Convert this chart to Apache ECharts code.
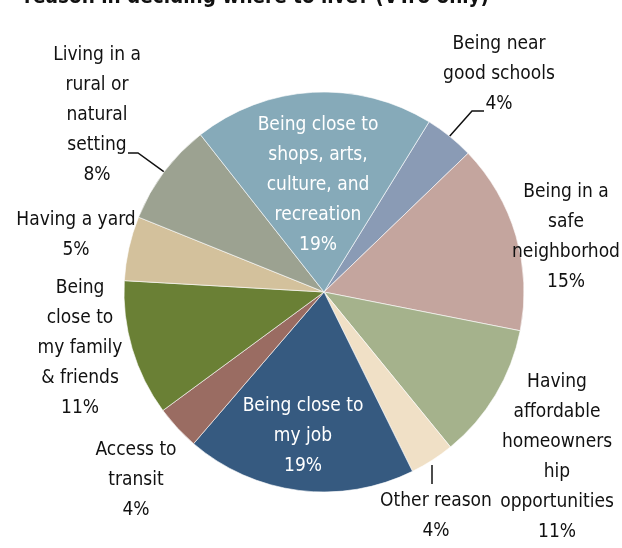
<!DOCTYPE html>
<html><head><meta charset="utf-8">
<script src="https://cdn.jsdelivr.net/npm/echarts@6/dist/echarts.min.js"></script>
<style>html,body{margin:0;padding:0;background:#fff}#c{width:622px;height:548px}</style>
</head><body><div id="c"></div>
<script>
var categories = [
  "Being near\ngood schools",
  "Being in a\nsafe\nneighborhod",
  "Having\naffordable\nhomeowners\nhip\nopportunities",
  "Other reason",
  "Being close to\nmy job",
  "Access to\ntransit",
  "Being\nclose to\nmy family\n& friends",
  "Having a yard",
  "Living in a\nrural or\nnatural\nsetting",
  "Being close to\nshops, arts,\nculture, and\nrecreation"
];
var values = [4.0, 15.3, 11.0, 3.6, 18.6, 3.6, 11.0, 5.2, 8.3, 19.4];
var colors = ["#8a9bb5", "#c4a59e", "#a5b28c", "#f0e0c6", "#365a80", "#9a6c62", "#6a8035", "#d3c19c", "#9ca291", "#86aab9"];
var insideIdx = [4, 9];
var lineIdx = [0, 3, 8];
// label block centres (layout only)
var labelPos = [[499,74],[566,237],[557,457],[436,516],[303,436],[136,480],[80,348],[76,235],[97,115],[318,185]];

var FONT = "'Liberation Sans Narrow','DejaVu Sans Condensed','Arial Narrow',sans-serif";
var chart = echarts.init(document.getElementById('c'), null, {renderer:'canvas'});
var data = categories.map(function(n,i){
  var inside = insideIdx.indexOf(i) >= 0;
  return {
    name: n, value: values[i],
    itemStyle: {color: colors[i]},
    label: {color: inside ? '#ffffff' : '#111111'},
    labelLine: {show: lineIdx.indexOf(i) >= 0}
  };
});
chart.setOption({
  animation: false,
  title: {
    text: 'reason in deciding where to live? (VTro only)',
    left: 19, top: -18,
    textStyle: {fontFamily: FONT, fontWeight: 'bold', fontSize: 20.5, color: '#111'}
  },
  series: [{
    type: 'pie',
    center: [324, 292],
    radius: [0, 200],
    startAngle: 58.3,
    clockwise: true,
    data: data,
    itemStyle: {borderColor: '#ffffff', borderWidth: 0.6},
    label: {
      show: true,
      fontFamily: FONT, fontSize: 19, lineHeight: 30,
      align: 'center',
      overflow: 'none',
      edgeDistance: 0,
      formatter: function(p){ return p.name + '\n' + Math.round(p.value) + '%'; }
    },
    labelLine: {lineStyle: {color: '#111', width: 1.5}},
    labelLayout: function(p){
      var i = p.dataIndex;
      var pos = labelPos[i];
      var res = {x: pos[0], y: pos[1], align: 'center', verticalAlign: 'middle', draggable: false};
      var s = p.labelLinePoints ? p.labelLinePoints[0] : null;
      if (s) {
        if (i === 0) res.labelLinePoints = [s, [472,111], [484,111]];
        else if (i === 8) res.labelLinePoints = [s, [138,153], [128,153]];
        else if (i === 3) res.labelLinePoints = [[432,465], [432,465], [432,484]];
      }
      return res;
    }
  }]
});
</script></body></html>
